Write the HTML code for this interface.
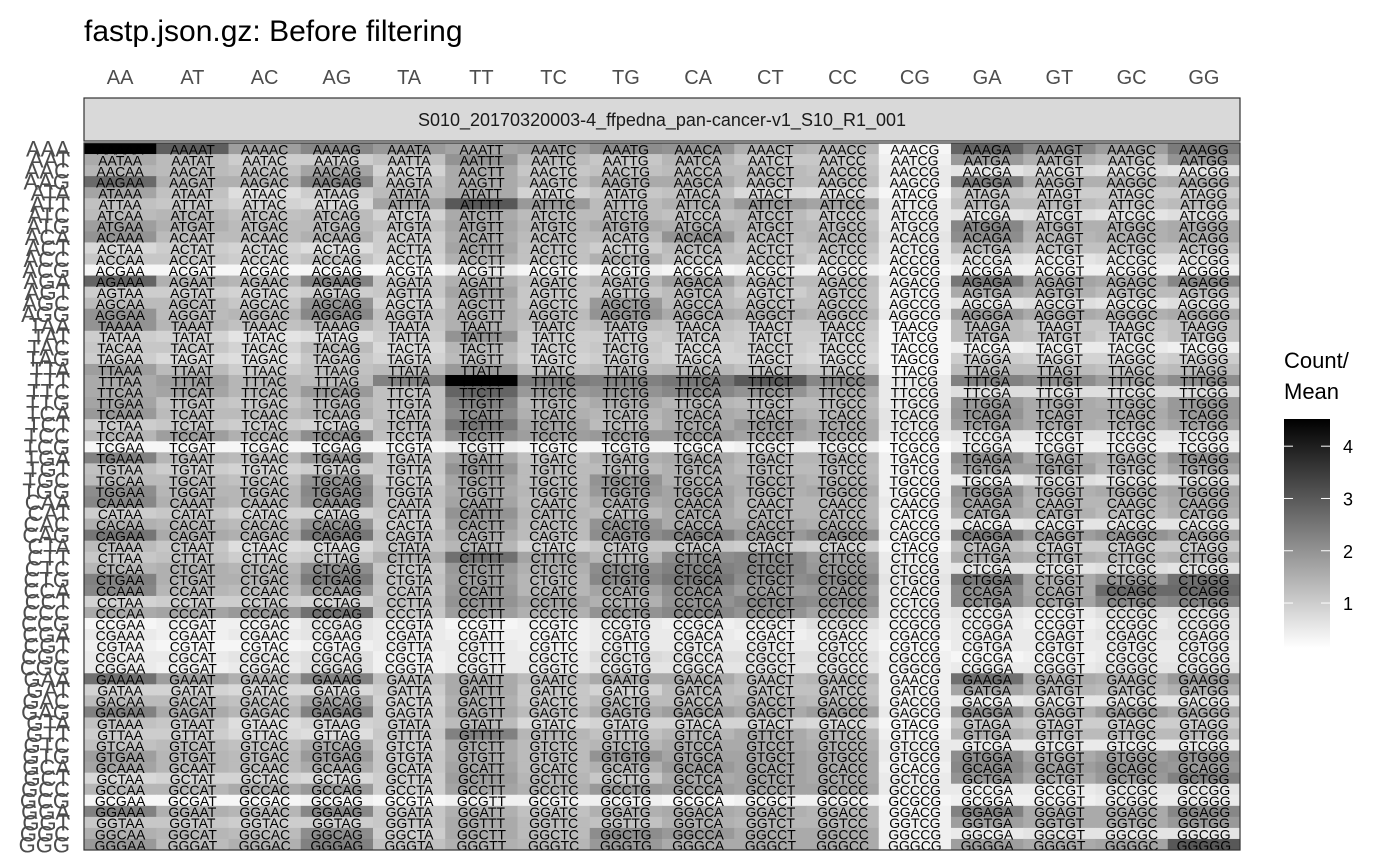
<!DOCTYPE html>
<html><head><meta charset="utf-8"><style>
html,body{margin:0;padding:0;background:#fff;}
svg{display:block;font-family:"Liberation Sans",sans-serif;}
</style></head><body>
<svg id="chart" width="1400" height="866" viewBox="0 0 1400 866"></svg>
<script>
const colLabels = ["AA","AT","AC","AG","TA","TT","TC","TG","CA","CT","CC","CG","GA","GT","GC","GG"];
const rowLabels = ["AAA","AAT","AAC","AAG","ATA","ATT","ATC","ATG","ACA","ACT","ACC","ACG","AGA","AGT","AGC","AGG",
"TAA","TAT","TAC","TAG","TTA","TTT","TTC","TTG","TCA","TCT","TCC","TCG","TGA","TGT","TGC","TGG",
"CAA","CAT","CAC","CAG","CTA","CTT","CTC","CTG","CCA","CCT","CCC","CCG","CGA","CGT","CGC","CGG",
"GAA","GAT","GAC","GAG","GTA","GTT","GTC","GTG","GCA","GCT","GCC","GCG","GGA","GGT","GGC","GGG"];
const legendTicks = [1,2,3,4];
const values = [
[4.5,2.9,1.8,2.2,1.9,1.7,1.8,2.1,2.0,1.5,1.4,0.3,2.8,2.2,1.8,2.4],
[1.6,1.3,1.0,1.0,1.2,2.0,1.3,1.1,1.4,1.1,1.1,0.4,1.9,1.5,1.3,2.0],
[1.4,1.3,1.2,1.7,0.9,1.6,1.1,1.2,1.3,1.3,1.2,0.5,0.6,0.8,0.7,0.6],
[2.7,1.5,1.5,2.3,1.2,1.6,1.3,1.6,1.6,1.3,1.3,0.5,2.4,1.5,1.5,1.6],
[1.7,1.2,0.7,1.0,1.3,1.6,0.9,1.1,1.2,0.8,0.7,0.3,1.1,1.0,1.0,1.0],
[1.2,1.1,0.9,0.8,1.7,3.0,1.9,1.3,1.5,1.9,1.7,0.5,1.3,1.3,1.2,1.3],
[1.3,1.4,1.2,1.3,0.9,1.6,1.3,1.3,1.2,1.3,1.1,0.5,0.6,0.7,0.6,0.7],
[1.8,1.5,1.3,1.3,1.2,1.7,1.4,1.6,1.5,1.4,1.3,0.5,2.2,1.5,1.5,1.6],
[2.0,1.3,1.3,1.5,1.0,1.6,1.3,1.3,2.0,1.3,1.4,0.6,2.1,1.4,1.5,1.6],
[0.8,1.0,0.9,0.7,1.0,1.7,1.2,1.0,1.3,1.1,1.2,0.5,1.4,1.2,1.2,1.2],
[1.1,1.1,1.0,1.2,0.9,1.5,1.2,1.5,1.2,1.2,1.0,0.5,0.7,0.6,0.7,0.7],
[0.3,0.3,0.3,0.3,0.3,0.5,0.3,0.4,0.3,0.4,0.4,0.3,0.4,0.4,0.4,0.4],
[2.8,1.5,1.4,2.3,1.1,1.5,1.2,1.4,1.8,1.3,1.3,0.5,2.5,1.7,1.6,2.2],
[1.0,1.0,0.9,1.0,1.1,1.7,1.1,1.1,1.3,1.0,1.2,0.4,1.6,1.5,1.3,1.3],
[1.3,1.3,1.1,2.0,0.9,1.5,1.1,1.9,1.3,1.2,1.2,0.4,0.6,0.7,0.6,0.7],
[2.0,1.3,1.4,2.2,1.2,1.5,1.3,2.0,1.6,1.5,1.4,0.5,1.9,1.6,1.5,1.6],
[2.0,1.4,1.2,1.4,1.1,1.5,1.2,1.3,1.2,1.1,1.1,0.3,1.3,1.1,1.1,1.2],
[1.0,0.9,0.6,0.7,1.0,2.0,1.0,1.0,1.1,1.0,1.0,0.3,1.3,1.2,1.0,1.2],
[1.1,1.1,0.9,1.3,0.8,1.4,1.0,1.1,0.9,1.0,0.9,0.3,0.4,0.5,0.5,0.4],
[1.0,0.8,0.7,1.1,0.9,1.3,0.9,1.0,0.9,0.9,0.8,0.3,1.0,0.9,0.9,1.0],
[1.8,1.3,1.0,1.2,1.3,1.9,1.2,1.3,1.4,1.2,1.1,0.3,1.3,1.3,1.2,1.3],
[1.6,1.8,1.4,1.3,2.3,4.5,2.4,2.3,2.5,3.0,2.2,0.5,2.3,2.1,1.8,2.1],
[1.6,1.7,1.4,1.9,1.2,2.8,1.9,2.0,2.2,2.0,1.6,0.5,0.7,0.7,0.7,0.7],
[1.7,1.2,1.1,1.4,1.2,2.3,1.4,1.6,1.4,1.3,1.3,0.5,1.9,1.6,1.5,1.9],
[1.9,1.3,1.3,1.5,1.2,2.1,1.5,1.4,1.6,1.5,1.4,0.6,2.0,1.6,1.6,1.9],
[1.0,1.1,1.0,0.9,1.3,2.5,1.7,1.3,1.6,1.9,1.6,0.6,1.8,1.6,1.5,1.7],
[1.4,1.8,1.5,2.1,1.2,2.1,1.8,1.9,1.9,1.7,1.6,0.5,0.6,0.6,0.6,0.6],
[0.3,0.3,0.3,0.3,0.3,0.4,0.3,0.3,0.3,0.4,0.4,0.2,0.4,0.4,0.4,0.4],
[2.3,1.4,1.3,2.0,1.1,1.7,1.2,1.5,1.6,1.4,1.4,0.4,2.1,1.6,1.5,2.0],
[1.2,1.0,0.9,1.0,1.1,2.0,1.3,1.3,1.5,1.3,1.3,0.4,1.8,1.8,1.4,1.7],
[1.3,1.3,1.2,2.0,1.0,1.7,1.3,2.0,1.5,1.5,1.4,0.4,0.5,0.7,0.6,0.7],
[2.1,1.4,1.4,2.2,1.2,1.6,1.4,1.9,1.7,1.5,1.6,0.4,2.0,1.5,1.6,1.7],
[2.2,1.5,1.4,2.1,1.2,1.7,1.3,1.6,1.7,1.4,1.4,0.5,1.8,1.4,1.4,1.6],
[1.0,1.1,0.9,0.9,1.1,2.0,1.4,1.3,1.6,1.4,1.4,0.4,1.6,1.5,1.3,1.5],
[1.5,1.4,1.3,2.0,1.0,1.8,1.3,2.0,1.6,1.6,1.5,0.4,0.5,0.6,0.6,0.6],
[2.5,1.6,1.5,2.5,1.2,1.6,1.3,2.1,2.3,1.9,2.1,0.5,2.4,1.8,2.0,1.8],
[1.3,1.1,0.7,0.8,1.1,1.4,0.9,1.1,1.1,1.0,0.9,0.3,1.2,1.0,1.0,1.0],
[1.1,1.2,1.0,1.1,1.5,2.6,1.7,1.4,2.1,2.2,1.8,0.5,1.6,1.5,1.4,1.5],
[1.4,1.5,1.4,2.1,1.1,1.9,1.5,2.1,2.3,2.2,1.9,0.5,0.6,0.6,0.7,0.6],
[2.3,1.5,1.5,2.4,1.2,1.8,1.4,2.2,2.5,2.1,2.2,0.6,2.5,1.6,1.9,2.6],
[2.2,1.4,1.3,1.9,1.1,1.9,1.4,1.7,2.1,1.8,1.9,0.5,2.1,1.6,2.7,2.7],
[0.9,1.0,1.0,0.9,1.2,2.0,1.7,1.5,2.0,2.2,2.1,0.5,2.1,1.7,2.2,2.3],
[1.6,1.7,1.9,2.6,1.1,1.8,1.5,2.0,2.2,2.0,1.7,0.5,0.6,0.5,0.7,0.7],
[0.3,0.4,0.4,0.6,0.5,0.3,0.4,0.5,0.4,0.5,0.7,0.4,0.5,0.4,0.5,0.6],
[0.5,0.4,0.5,0.6,0.5,0.4,0.4,0.5,0.5,0.4,0.5,0.4,0.5,0.5,0.6,0.6],
[0.4,0.3,0.3,0.4,0.5,0.5,0.4,0.5,0.5,0.5,0.5,0.3,0.5,0.5,0.5,0.5],
[0.5,0.5,0.6,0.7,0.4,0.5,0.5,0.8,0.7,0.7,0.7,0.4,0.3,0.4,0.5,0.5],
[0.5,0.4,0.5,0.7,0.4,0.5,0.5,0.6,0.6,0.6,0.6,0.4,0.5,0.5,0.6,0.6],
[2.6,1.8,1.5,2.3,1.2,1.6,1.3,1.6,1.6,1.3,1.4,0.4,2.6,1.6,1.5,1.9],
[0.9,0.9,0.8,0.8,1.0,1.6,1.1,0.9,1.3,1.2,1.2,0.4,1.7,1.4,1.3,1.5],
[1.3,1.3,1.2,1.7,0.9,1.5,1.1,1.3,1.3,1.4,1.3,0.4,0.5,0.6,0.6,0.6],
[2.3,1.6,1.4,2.3,1.0,1.6,1.3,1.6,1.8,1.6,1.8,0.5,2.1,1.5,1.8,1.6],
[1.2,1.1,0.7,0.9,1.0,1.3,0.8,0.9,0.9,0.9,0.8,0.3,1.1,1.0,1.0,1.0],
[1.0,1.0,0.8,0.7,1.1,2.3,1.4,1.2,1.4,1.6,1.4,0.4,1.5,1.3,1.3,1.3],
[1.2,1.3,1.2,1.6,1.0,1.6,1.3,1.4,1.6,1.6,1.5,0.5,0.5,0.5,0.5,0.5],
[1.8,1.4,1.3,1.9,1.1,1.6,1.3,2.0,1.7,1.7,1.6,0.5,2.1,1.6,1.8,2.0],
[1.7,1.4,1.3,1.6,1.1,1.7,1.3,1.5,1.9,1.7,1.6,0.4,2.2,1.8,2.0,1.9],
[0.8,0.9,0.9,0.8,1.0,1.8,1.4,1.1,1.6,1.7,1.6,0.5,2.0,1.6,1.9,2.3],
[1.4,1.4,1.6,1.9,1.0,1.7,1.5,1.9,1.8,1.7,1.7,0.5,0.5,0.5,0.6,0.6],
[0.3,0.3,0.3,0.4,0.3,0.4,0.4,0.4,0.3,0.4,0.4,0.3,0.4,0.4,0.5,0.5],
[2.3,1.5,1.4,2.2,1.1,1.5,1.2,1.5,1.6,1.5,1.4,0.4,2.3,1.6,1.6,2.2],
[1.1,1.1,1.0,1.0,1.1,1.6,1.3,1.2,1.5,1.4,1.4,0.4,1.8,1.6,1.6,1.9],
[1.5,1.4,1.3,2.1,1.0,1.6,1.3,2.1,1.9,1.6,1.6,0.4,0.5,0.6,0.6,0.6],
[1.9,1.3,1.5,2.3,1.2,1.5,1.4,1.9,1.6,1.6,1.6,0.4,1.8,1.6,1.7,3.0]
];

const NS = "http://www.w3.org/2000/svg";
const svg = document.getElementById("chart");
const PX0 = 84, PX1 = 1240, PY0 = 143, PY1 = 850;
const VMIN = 0.14, VMAX = 4.52;
const cw = (PX1 - PX0) / colLabels.length;
const rh = (PY1 - PY0) / rowLabels.length;
function xScale(i){ return PX0 + i * cw; }
function yScale(j){ return PY0 + j * rh; }
function colorOf(v){
  let t = (v - VMIN) / (VMAX - VMIN); t = Math.max(0, Math.min(1, t));
  const g = Math.round(255 * (1 - t));
  return "rgb(" + g + "," + g + "," + g + ")";
}
function mk(tag, attrs, parent){
  const e = document.createElementNS(NS, tag);
  for (const k in attrs) e.setAttribute(k, attrs[k]);
  (parent || svg).appendChild(e);
  return e;
}

const title = mk("text", {x:84, y:41, "font-size":30, fill:"#000"});
title.textContent = "fastp.json.gz: Before filtering";



colLabels.forEach((c, i) => {
  const t = mk("text", {x: xScale(i) + cw/2, y: 84, "font-size":20, fill:"#4d4d4d", "text-anchor":"middle"});
  t.textContent = c;
  
  
});

const strip = mk("rect", {x:PX0, y:98, width:PX1-PX0, height:43, fill:"#d9d9d9", stroke:"#333", "stroke-width":1.2});


const stripText = mk("text", {x:(PX0+PX1)/2, y:126, "font-size":18, fill:"#1a1a1a", "text-anchor":"middle"});
stripText.textContent = "S010_20170320003-4_ffpedna_pan-cancer-v1_S10_R1_001";



const cellG = mk("g", {});


rowLabels.forEach((r, j) => {
  colLabels.forEach((c, i) => {
    const rect = mk("rect", {x: xScale(i), y: yScale(j), width: cw + 0.5, height: rh + 0.5, fill: colorOf(values[j][i])}, cellG);
    
    
  });
});
const textG = mk("g", {"font-size":14, fill:"#000", "text-anchor":"middle"});


rowLabels.forEach((r, j) => {
  colLabels.forEach((c, i) => {
    const t = mk("text", {x: xScale(i) + cw/2, y: yScale(j) + rh + 0.3}, textG);
    t.textContent = r + c;
    
    
  });
  const rl = mk("text", {x: 70, y: yScale(j) + rh/2 + 8, "font-size":22, fill:"#4d4d4d", "text-anchor":"end"});
  rl.textContent = r;
  
  
});

const border = mk("rect", {x:PX0, y:PY0, width:PX1-PX0, height:PY1-PY0, fill:"none", stroke:"#333", "stroke-width":1.2});



const lt1 = mk("text", {x:1284, y:368, "font-size":22, fill:"#000"});
lt1.textContent = "Count/";


const lt2 = mk("text", {x:1284, y:399, "font-size":22, fill:"#000"});
lt2.textContent = "Mean";


const LB0 = 419, LB1 = 648, LX = 1284, LW = 46;
function lScale(v){ return LB1 - (v - VMIN) / (VMAX - VMIN) * (LB1 - LB0); }
const defs = mk("defs", {});
const grad = mk("linearGradient", {id:"lg", x1:0, y1:1, x2:0, y2:0}, defs);
mk("stop", {offset:"0", "stop-color":"#ffffff"}, grad);
mk("stop", {offset:"1", "stop-color":"#000000"}, grad);
const bar = mk("rect", {x:LX, y:LB0, width:LW, height:LB1-LB0, fill:"url(#lg)"});


legendTicks.forEach(v => {
  const y = lScale(v);
  mk("line", {x1:LX, x2:LX+9, y1:y, y2:y, stroke:"#fff", "stroke-width":1});
  mk("line", {x1:LX+LW-9, x2:LX+LW, y1:y, y2:y, stroke:"#fff", "stroke-width":1});
  const t = mk("text", {x:1343, y:y+7, "font-size":18, fill:"#000"});
  t.textContent = String(v);
  
  
});
</script>
</body></html>
